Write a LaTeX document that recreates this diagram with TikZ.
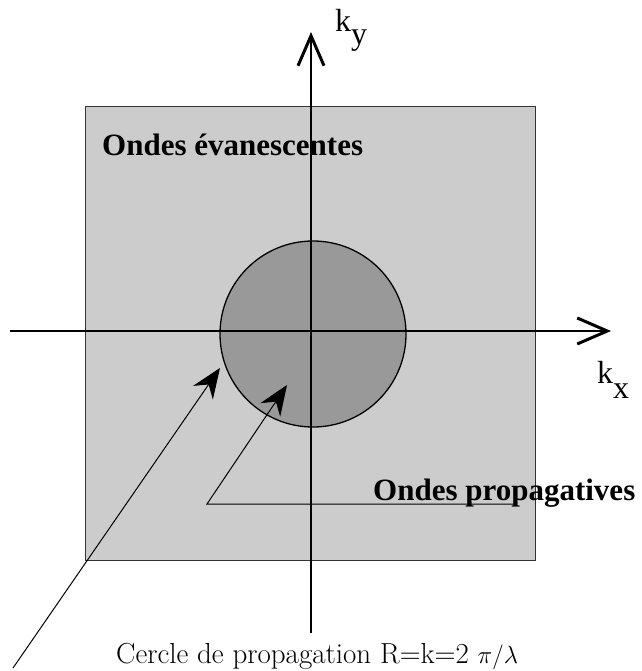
\documentclass[tikz,border=0pt]{standalone}
\usepackage{fontspec}
\newfontfamily\timesfont{Liberation Serif}
\usetikzlibrary{arrows.meta}

\begin{document}
\begin{tikzpicture}[
  x=1pt, y=-1pt,
  plane/.style={fill=black!20, draw=black!80, line width=0.8pt},
  disc/.style={fill=black!40, draw=black, line width=1.3pt},
  axis/.style={line width=1.2pt,
               -{Straight Barb[length=30pt, width=26pt, line width=3pt]}},
  leader/.style={line width=1pt,
               -{Stealth[length=30pt, width=24pt, inset=10pt]}},
  zone/.style={font={\timesfont\bfseries\fontsize{31}{36}\selectfont},
               inner sep=0pt, anchor=base west},
  klabel/.style={font={\timesfont\fontsize{32}{36}\selectfont},
               inner sep=0pt, anchor=base west},
  caption/.style={font={\fontsize{29}{34}\selectfont},
               inner sep=0pt, anchor=base west},
]
\useasboundingbox (0,0) rectangle (641,671);

% plane and propagation circle
\filldraw[plane] (85,106) rectangle (535,560);
\filldraw[disc]  (313,334) circle (93);

% axes
\coordinate (xstart) at (10,331);
\coordinate (xend)   at (611,331);
\coordinate (ystart) at (311,633);
\coordinate (yend)   at (311,32);
\draw[axis] (xstart) -- (xend);
\draw[axis] (ystart) -- (yend);

\node[klabel] (ky) at (335,32)  {k\raisebox{-13pt}{y}};
\node[klabel] (kx) at (597,383) {k\raisebox{-15pt}{x}};

% zones
\node[zone] (evan) at (102,156) {Ondes évanescentes};
\node[zone] (prop) at (373,500) {Ondes propagatives};
\node[caption] (cercle) at (116,663) {Cercle de propagation R=k=2 $\pi/\lambda$};

% leaders
\coordinate (c1start) at (13,668);
\coordinate (c1tip)   at (220,368);
\coordinate (p2end)   at (513,504);
\coordinate (p2knee)  at (207,504);
\coordinate (p2tip)   at (287,385);
\draw[leader] (c1start) -- (c1tip);
\draw[leader] (p2end) -- (p2knee) -- (p2tip);

\end{tikzpicture}
\end{document}
